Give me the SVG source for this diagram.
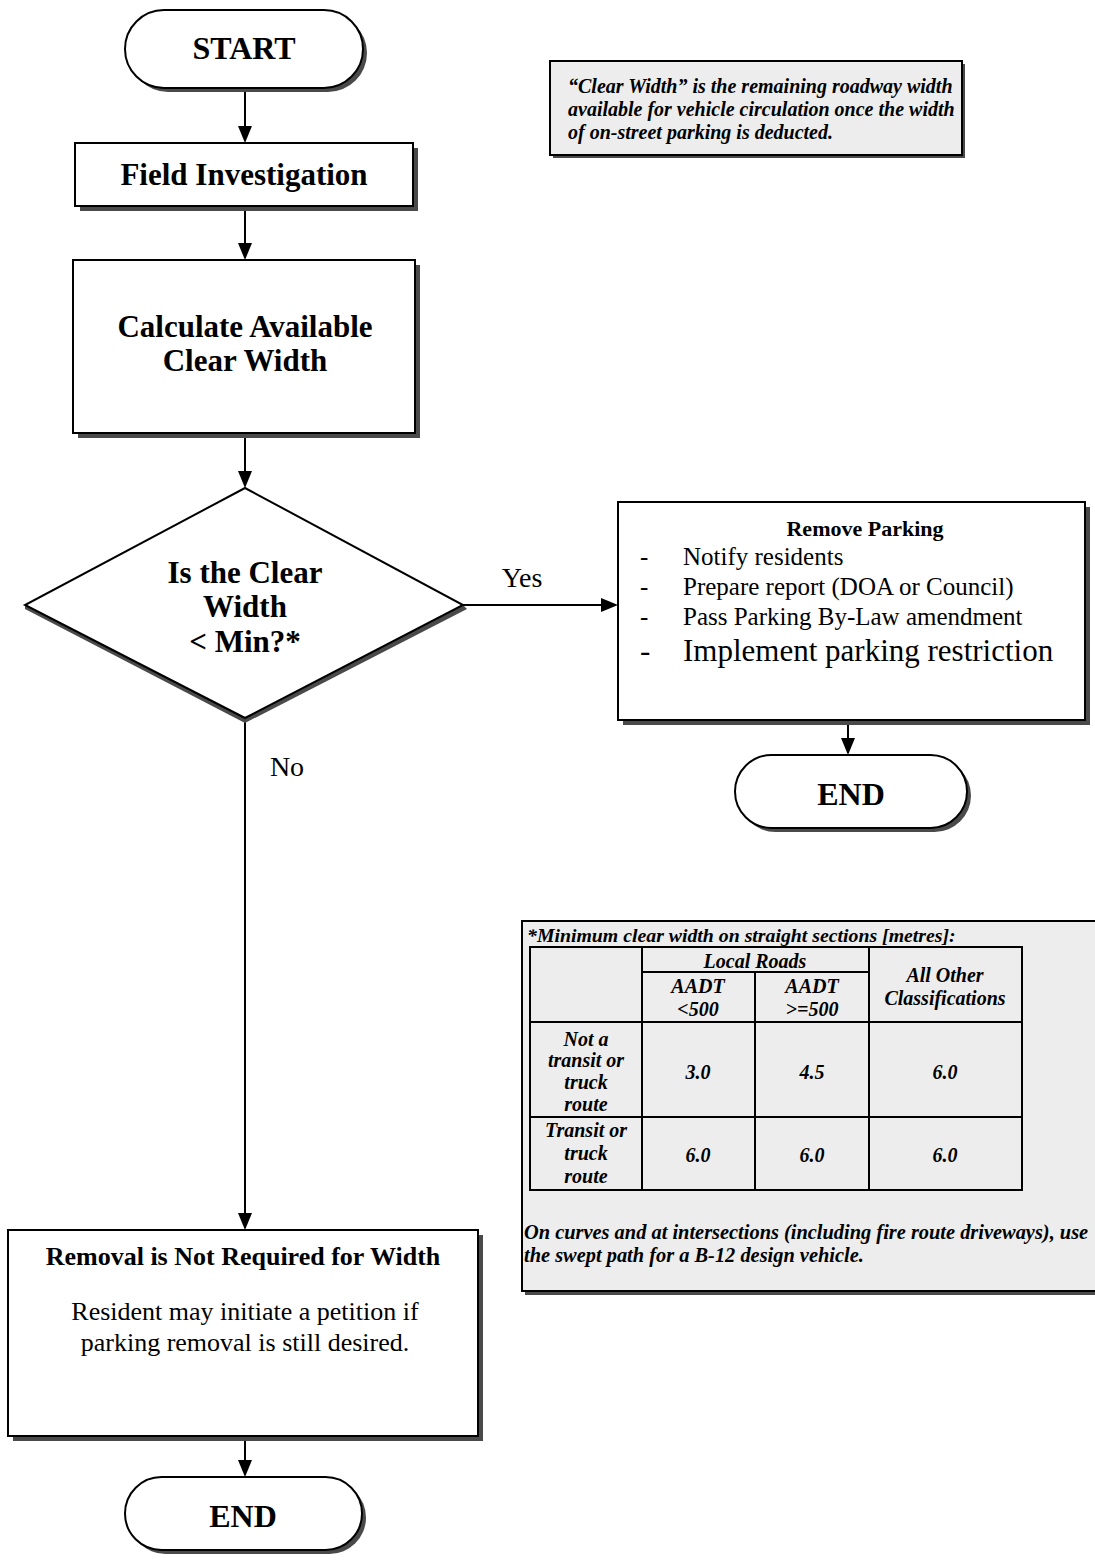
<svg xmlns="http://www.w3.org/2000/svg" width="1095" height="1567" viewBox="0 0 1095 1567">
<defs>
<style>
.shape{fill:#ffffff;stroke:#000;stroke-width:2}
.shadow{fill:#4a4a4a;stroke:none}
.b{font-family:"Liberation Serif","Times New Roman",serif;font-weight:bold;fill:#000}
.r{font-family:"Liberation Serif","Times New Roman",serif;fill:#000}
.bi{font-family:"Liberation Serif","Times New Roman",serif;font-weight:bold;font-style:italic;fill:#000}
.grey{fill:#ededed;stroke:#000;stroke-width:2}
.cell{fill:none;stroke:#000;stroke-width:2}
.conn{stroke:#000;stroke-width:2;fill:none}
.t{font-size:20px;text-anchor:middle}
</style>
</defs>
<rect width="1095" height="1567" fill="#ffffff"/>

<g id="connectors">
<line class="conn" x1="245" y1="92" x2="245" y2="128"/>
<line class="conn" x1="245" y1="211" x2="245" y2="245"/>
<line class="conn" x1="245" y1="438" x2="245" y2="473"/>
<line class="conn" x1="463" y1="605" x2="603" y2="605"/>
<line class="conn" x1="848" y1="725" x2="848" y2="740"/>
<line class="conn" x1="245" y1="720" x2="245" y2="1215"/>
<line class="conn" x1="245" y1="1441" x2="245" y2="1462"/>
<path d="M238,126 L252,126 L245,143 z" fill="#000"/>
<path d="M238,243 L252,243 L245,260 z" fill="#000"/>
<path d="M238,471 L252,471 L245,488 z" fill="#000"/>
<path d="M601,598 L601,612 L618,605 z" fill="#000"/>
<path d="M841,738 L855,738 L848,755 z" fill="#000"/>
<path d="M238,1213 L252,1213 L245,1230 z" fill="#000"/>
<path d="M238,1460 L252,1460 L245,1477 z" fill="#000"/>
<text class="r" x="522" y="587" font-size="28" text-anchor="middle">Yes</text>
<text class="r" x="287" y="776" font-size="28" text-anchor="middle">No</text>
</g>

<g id="start">
<rect class="shadow" x="129" y="14" width="238" height="78" rx="39"/>
<rect class="shape" x="125" y="10" width="238" height="78" rx="39"/>
<text class="b" x="244" y="59" font-size="32" text-anchor="middle">START</text>
</g>

<g id="field-investigation">
<rect class="shadow" x="80" y="148" width="338" height="63"/>
<rect class="shape" x="75" y="143" width="338" height="63"/>
<text class="b" x="244" y="185" font-size="31" text-anchor="middle">Field Investigation</text>
</g>

<g id="calculate">
<rect class="shadow" x="78" y="265" width="342" height="173"/>
<rect class="shape" x="73" y="260" width="342" height="173"/>
<text class="b" x="245" y="337" font-size="31" text-anchor="middle">Calculate Available</text>
<text class="b" x="245" y="371" font-size="31" text-anchor="middle">Clear Width</text>
</g>

<g id="decision">
<polygon class="shadow" points="25,609 245,723 467,609 463,605 245,718 25,605"/>
<polygon class="shape" points="245,488 463,605 245,718 25,605"/>
<text class="b" x="245" y="583" font-size="31" text-anchor="middle">Is the Clear</text>
<text class="b" x="245" y="617" font-size="31" text-anchor="middle">Width</text>
<text class="b" x="245" y="652" font-size="31" text-anchor="middle">&lt; Min?*</text>
</g>

<g id="remove-parking">
<rect class="shadow" x="623" y="507" width="467" height="218"/>
<rect class="shape" x="618" y="502" width="467" height="218"/>
<text class="b" x="865" y="536" font-size="22" text-anchor="middle">Remove Parking</text>
<text class="r" x="640" y="565" font-size="25">-</text>
<text class="r" x="683" y="565" font-size="25">Notify residents</text>
<text class="r" x="640" y="595" font-size="25">-</text>
<text class="r" x="683" y="595" font-size="25">Prepare report (DOA or Council)</text>
<text class="r" x="640" y="625" font-size="25">-</text>
<text class="r" x="683" y="625" font-size="25">Pass Parking By-Law amendment</text>
<text class="r" x="640" y="661" font-size="31">-</text>
<text class="r" x="683" y="661" font-size="31">Implement parking restriction</text>
</g>

<g id="end-right">
<rect class="shadow" x="739" y="759" width="232" height="73" rx="36.5"/>
<rect class="shape" x="735" y="755" width="232" height="73" rx="36.5"/>
<text class="b" x="851" y="805" font-size="32" text-anchor="middle">END</text>
</g>

<g id="not-required">
<rect class="shadow" x="13" y="1235" width="470" height="206"/>
<rect class="shape" x="8" y="1230" width="470" height="206"/>
<text class="b" x="243" y="1265" font-size="26" text-anchor="middle">Removal is Not Required for Width</text>
<text class="r" x="245" y="1320" font-size="26" text-anchor="middle">Resident may initiate a petition if</text>
<text class="r" x="245" y="1351" font-size="26" text-anchor="middle">parking removal is still desired.</text>
</g>

<g id="end-bottom">
<rect class="shadow" x="129" y="1481" width="237" height="73" rx="36.5"/>
<rect class="shape" x="125" y="1477" width="237" height="73" rx="36.5"/>
<text class="b" x="243" y="1527" font-size="32" text-anchor="middle">END</text>
</g>

<g id="note-clear-width">
<rect class="shadow" x="553" y="64" width="412" height="94"/>
<rect class="grey" x="550" y="61" width="412" height="94"/>
<text class="bi" x="568" y="93" font-size="20">“Clear Width” is the remaining roadway width</text>
<text class="bi" x="568" y="116" font-size="20">available for vehicle circulation once the width</text>
<text class="bi" x="568" y="139" font-size="20">of on-street parking is deducted.</text>
</g>

<g id="table-note">
<rect class="shadow" x="525" y="925" width="580" height="370"/>
<rect class="grey" x="522" y="921" width="580" height="370"/>
<text class="bi" x="527" y="942" font-size="19.8">*Minimum clear width on straight sections [metres]:</text>
<rect class="cell" x="530" y="947" width="492" height="243"/>
<line class="cell" x1="642" y1="947" x2="642" y2="1190"/>
<line class="cell" x1="755" y1="972" x2="755" y2="1190"/>
<line class="cell" x1="869" y1="947" x2="869" y2="1190"/>
<line class="cell" x1="642" y1="972" x2="869" y2="972"/>
<line class="cell" x1="530" y1="1022" x2="1022" y2="1022"/>
<line class="cell" x1="530" y1="1117" x2="1022" y2="1117"/>
<text class="bi t" x="755" y="968">Local Roads</text>
<text class="bi t" x="698" y="993">AADT</text>
<text class="bi t" x="698" y="1016">&lt;500</text>
<text class="bi t" x="812" y="993">AADT</text>
<text class="bi t" x="812" y="1016">&gt;=500</text>
<text class="bi t" x="945" y="982">All Other</text>
<text class="bi t" x="945" y="1005">Classifications</text>
<text class="bi t" x="586" y="1046">Not a</text>
<text class="bi t" x="586" y="1067">transit or</text>
<text class="bi t" x="586" y="1089">truck</text>
<text class="bi t" x="586" y="1111">route</text>
<text class="bi t" x="698" y="1079">3.0</text>
<text class="bi t" x="812" y="1079">4.5</text>
<text class="bi t" x="945" y="1079">6.0</text>
<text class="bi t" x="586" y="1137">Transit or</text>
<text class="bi t" x="586" y="1160">truck</text>
<text class="bi t" x="586" y="1183">route</text>
<text class="bi t" x="698" y="1162">6.0</text>
<text class="bi t" x="812" y="1162">6.0</text>
<text class="bi t" x="945" y="1162">6.0</text>
<text class="bi" x="524" y="1239" font-size="20.4">On curves and at intersections (including fire route driveways), use</text>
<text class="bi" x="524" y="1262" font-size="20.4">the swept path for a B-12 design vehicle.</text>
</g>
</svg>
